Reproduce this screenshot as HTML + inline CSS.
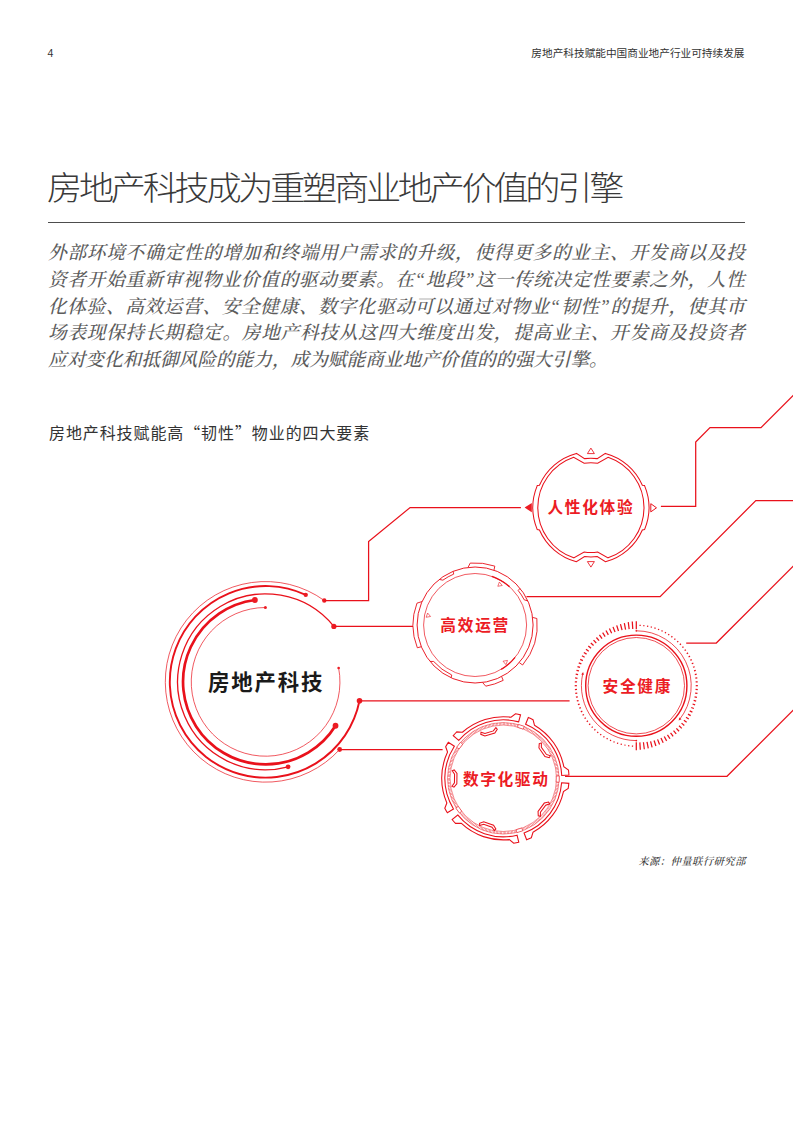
<!DOCTYPE html>
<html lang="zh-CN"><head><meta charset="utf-8"><title>房地产科技成为重塑商业地产价值的引擎</title>
<style>
html,body{margin:0;padding:0;background:#fff;}
body{width:793px;height:1122px;position:relative;overflow:hidden;font-family:"Liberation Sans","Noto Sans CJK SC",sans-serif;color:#333;}
.abs{position:absolute;white-space:nowrap;}
.pg{left:47.5px;top:47px;font-size:10.5px;line-height:12px;font-weight:400;color:#333;}
.hd{right:48.5px;top:46.5px;font-size:10.67px;line-height:12px;font-weight:400;color:#333;}
h1{margin:0;left:46.9px;top:166.3px;font-size:32.6px;line-height:46px;font-weight:300;color:#3a3a3a;letter-spacing:-3.05px;transform:scaleX(1.08);transform-origin:0 0;}
.rule{position:absolute;left:47.5px;top:221.5px;width:697px;height:1px;background:#4d4d4d;}
.body{position:absolute;left:48px;top:240.2px;width:697px;font-family:"Liberation Serif","Noto Serif CJK SC",serif;font-style:italic;font-size:18.67px;line-height:26.7px;color:#5c5c5c;font-weight:500;}
.body div{text-align:justify;text-align-last:justify;white-space:nowrap;}
.body div.last{text-align:left;text-align-last:left;}
.sub{left:49px;top:419.5px;font-size:16px;line-height:24px;letter-spacing:0.9px;font-weight:400;color:#333;}
.q{font-family:"Noto Sans CJK SC",sans-serif;}
.src{right:47.3px;top:853.8px;letter-spacing:0.35px;font-family:"Liberation Serif","Noto Serif CJK SC",serif;font-style:italic;font-weight:500;font-size:10.4px;line-height:16px;color:#333;}
</style></head><body>
<div class="abs pg">4</div>
<div class="abs hd">房地产科技赋能中国商业地产行业可持续发展</div>
<h1 class="abs">房地产科技成为重塑商业地产价值的引擎</h1>
<div class="rule"></div>
<div class="body">
<div>外部环境不确定性的增加和终端用户需求的升级，使得更多的业主、开发商以及投</div>
<div>资者开始重新审视物业价值的驱动要素。在“地段”这一传统决定性要素之外，人性</div>
<div>化体验、高效运营、安全健康、数字化驱动可以通过对物业“韧性”的提升，使其市</div>
<div>场表现保持长期稳定。房地产科技从这四大维度出发，提高业主、开发商及投资者</div>
<div class="last">应对变化和抵御风险的能力，成为赋能商业地产价值的的强大引擎。</div>
</div>
<div class="abs sub">房地产科技赋能高<span class="q">“</span>韧性<span class="q">”</span>物业的四大要素</div>
<svg width="793" height="1122" viewBox="0 0 793 1122" style="position:absolute;left:0;top:0" fill="none" stroke="#e9111b" stroke-linecap="butt" stroke-linejoin="miter">
<path d="M339.65 749.50 A100.30 100.30 0 1 1 324.27 600.50" stroke-width="0.7" />
<circle cx="324.27" cy="600.50" r="2.2" fill="#ec1c24" stroke="none"/>
<circle cx="339.65" cy="749.50" r="2.4" fill="#ec1c24" stroke="none"/>
<path d="M359.51 700.80 A95.80 95.80 0 1 1 305.73 594.86" stroke-width="1.9" />
<circle cx="305.73" cy="594.86" r="2.2" fill="#ec1c24" stroke="none"/>
<circle cx="359.51" cy="700.80" r="2.8" fill="#ec1c24" stroke="none"/>
<path d="M288.09 766.87 A87.95 87.95 0 1 1 333.87 626.40" stroke-width="1.3" />
<circle cx="333.87" cy="626.40" r="2.6" fill="#ec1c24" stroke="none"/>
<circle cx="288.09" cy="766.87" r="2.4" fill="#ec1c24" stroke="none"/>
<path d="M335.52 725.73 A82.55 82.55 0 1 1 254.90 600.00" stroke-width="2.7" />
<circle cx="254.90" cy="600.00" r="2.9" fill="#ec1c24" stroke="none"/>
<circle cx="335.52" cy="725.73" r="2.9" fill="#ec1c24" stroke="none"/>
<path d="M338.64 667.97 A74.35 74.35 0 1 1 265.40 607.50" stroke-width="0.7" />
<circle cx="265.40" cy="607.50" r="1.5" fill="#ec1c24" stroke="none"/>
<circle cx="338.64" cy="667.97" r="1.3" fill="#ec1c24" stroke="none"/>
<polyline points="324.27,600.50 368.60,600.50 368.60,541.50 410.10,507.60 520.90,507.60" stroke-width="1.25"/>
<polyline points="333.87,626.40 413.00,626.40" stroke-width="1.25"/>
<polyline points="359.51,700.80 569.60,700.80" stroke-width="1.25"/>
<polyline points="339.65,749.50 442.60,749.50" stroke-width="1.25"/>
<polyline points="660.90,506.30 695.70,506.30 695.70,442.00 710.00,427.60 761.00,427.60 793.50,395.10" stroke-width="1.25"/>
<polyline points="526.50,596.60 660.10,596.60 755.80,500.60 794.00,500.60" stroke-width="1.25"/>
<polyline points="686.20,643.00 716.30,643.00 794.00,565.30" stroke-width="1.25"/>
<polyline points="565.00,776.30 727.00,776.30 794.00,709.30" stroke-width="1.25"/>
<path d="M584.54 458.61 A49.40 49.40 0 0 1 597.26 458.61 L605.42 453.41 A56.10 56.10 0 0 1 642.35 485.23 L644.56 485.59 A58.00 58.00 0 0 1 644.56 529.61 L642.35 529.97 A56.10 56.10 0 0 1 605.42 561.79 L597.26 556.59 A49.40 49.40 0 0 1 584.54 556.59 L576.38 561.79 A56.10 56.10 0 0 1 539.45 529.97 L537.24 529.61 A58.00 58.00 0 0 1 537.24 485.59 L539.45 485.23 A56.10 56.10 0 0 1 576.38 453.41 Z" stroke-width="1.05"/>
<path d="M584.11 463.22 A44.90 44.90 0 0 1 597.69 463.22 L608.10 457.36 A53.10 53.10 0 0 1 608.10 557.84 L597.69 551.98 A44.90 44.90 0 0 1 584.11 551.98 L573.70 557.84 A53.10 53.10 0 0 1 573.70 457.36 Z" stroke-width="1.05"/>
<polygon points="590.90,448.10 587.40,453.60 594.40,453.60" fill="none" stroke-width="0.85"/>
<polygon points="590.90,567.10 587.40,561.60 594.40,561.60" fill="none" stroke-width="0.85"/>
<polygon points="524.60,507.60 531.80,502.90 531.80,512.30" fill="#ec1c24" stroke-width="0"/>
<polygon points="656.50,507.80 650.80,503.70 650.80,511.90" fill="none" stroke-width="1.0"/>
<circle cx="475.10" cy="625.00" r="58" stroke-width="0.95"/>
<circle cx="475.10" cy="625.00" r="51.5" stroke-width="0.7"/>
<path d="M468.03 567.43 L470.23 563.09 A62.10 62.10 0 0 1 494.80 566.11 L493.98 570.16" stroke-width="0.9"/>
<path d="M421.32 646.73 L417.32 647.76 A62.10 62.10 0 0 1 416.97 603.15 L422.03 601.59" stroke-width="0.9"/>
<path d="M532.60 617.43 L536.86 618.51 A62.10 62.10 0 0 1 522.60 665.00 L519.27 662.59" stroke-width="0.9"/>
<path d="M501.61 676.59 L503.20 680.38 A62.10 62.10 0 0 1 485.78 686.18 L482.57 682.52" stroke-width="0.9"/>
<path d="M439.23 579.42 L442.89 580.17 A55.20 55.20 0 0 1 453.71 574.11 L453.09 571.34" stroke-width="0.9"/>
<path d="M520.05 588.34 L518.18 590.49 A55.20 55.20 0 0 1 524.24 599.85 L527.84 600.86" stroke-width="0.9"/>
<path d="M451.05 677.78 L451.77 675.03 A55.20 55.20 0 0 1 433.69 661.50 L429.96 661.42" stroke-width="0.9"/>
<path d="M491.87 576.31 A51.50 51.50 0 0 1 509.56 586.73" stroke-width="1.2" />
<path d="M515.12 657.41 A51.50 51.50 0 0 1 501.24 669.37" stroke-width="1.2" />
<polygon points="427.65,613.04 430.54,616.49 426.11,617.27" fill="none" stroke-width="0.6"/>
<polygon points="502.24,585.49 497.81,586.27 499.35,582.04" fill="none" stroke-width="0.6"/>
<polygon points="507.49,660.43 505.95,664.66 503.06,661.21" fill="none" stroke-width="0.6"/>
<circle cx="636.30" cy="685.70" r="50.6" stroke-width="1.4"/>
<circle cx="636.30" cy="685.70" r="48.2" stroke-width="0.75"/>
<line x1="640.06" y1="625.93" x2="640.14" y2="624.71" stroke-width="1.25"/>
<line x1="643.81" y1="626.28" x2="643.96" y2="625.07" stroke-width="1.25"/>
<line x1="647.52" y1="626.87" x2="647.75" y2="625.67" stroke-width="1.25"/>
<line x1="651.19" y1="627.70" x2="651.50" y2="626.50" stroke-width="1.25"/>
<line x1="654.80" y1="628.75" x2="655.19" y2="627.57" stroke-width="1.25"/>
<line x1="658.34" y1="630.03" x2="658.80" y2="628.86" stroke-width="1.25"/>
<line x1="661.79" y1="631.53" x2="662.33" y2="630.38" stroke-width="1.25"/>
<line x1="665.13" y1="633.25" x2="665.76" y2="632.12" stroke-width="1.25"/>
<line x1="668.37" y1="635.17" x2="669.07" y2="634.06" stroke-width="1.25"/>
<line x1="671.47" y1="637.30" x2="672.25" y2="636.21" stroke-width="1.25"/>
<line x1="674.43" y1="639.61" x2="675.30" y2="638.56" stroke-width="1.25"/>
<line x1="677.24" y1="642.11" x2="678.19" y2="641.09" stroke-width="1.25"/>
<line x1="679.88" y1="644.77" x2="680.92" y2="643.80" stroke-width="1.25"/>
<line x1="682.35" y1="647.60" x2="683.48" y2="646.67" stroke-width="1.25"/>
<line x1="684.63" y1="650.58" x2="685.86" y2="649.70" stroke-width="1.25"/>
<line x1="686.73" y1="653.70" x2="688.04" y2="652.87" stroke-width="1.25"/>
<line x1="688.61" y1="656.94" x2="690.02" y2="656.17" stroke-width="1.25"/>
<line x1="690.29" y1="660.29" x2="691.79" y2="659.59" stroke-width="1.25"/>
<line x1="691.76" y1="663.74" x2="693.35" y2="663.11" stroke-width="1.25"/>
<line x1="693.00" y1="667.28" x2="694.68" y2="666.73" stroke-width="1.25"/>
<line x1="694.01" y1="670.88" x2="695.79" y2="670.43" stroke-width="1.25"/>
<line x1="694.79" y1="674.54" x2="696.67" y2="674.18" stroke-width="1.25"/>
<line x1="695.34" y1="678.24" x2="697.31" y2="677.99" stroke-width="1.25"/>
<line x1="695.65" y1="681.97" x2="697.71" y2="681.84" stroke-width="1.25"/>
<line x1="695.72" y1="685.70" x2="697.88" y2="685.70" stroke-width="1.25"/>
<line x1="695.56" y1="689.43" x2="697.80" y2="689.57" stroke-width="1.25"/>
<line x1="695.16" y1="693.14" x2="697.48" y2="693.43" stroke-width="1.25"/>
<line x1="694.53" y1="696.81" x2="696.93" y2="697.27" stroke-width="1.25"/>
<line x1="693.66" y1="700.43" x2="696.14" y2="701.06" stroke-width="1.25"/>
<line x1="692.57" y1="703.98" x2="695.11" y2="704.81" stroke-width="1.25"/>
<line x1="691.25" y1="707.46" x2="693.85" y2="708.49" stroke-width="1.25"/>
<line x1="689.71" y1="710.84" x2="692.37" y2="712.08" stroke-width="1.25"/>
<line x1="687.97" y1="714.10" x2="690.66" y2="715.59" stroke-width="1.25"/>
<line x1="686.02" y1="717.25" x2="688.75" y2="718.98" stroke-width="1.25"/>
<line x1="683.87" y1="720.26" x2="686.62" y2="722.26" stroke-width="1.25"/>
<line x1="681.54" y1="723.13" x2="684.29" y2="725.40" stroke-width="1.25"/>
<line x1="679.03" y1="725.83" x2="681.77" y2="728.40" stroke-width="1.25"/>
<line x1="676.36" y1="728.36" x2="679.07" y2="731.24" stroke-width="1.25"/>
<line x1="673.54" y1="730.71" x2="676.19" y2="733.92" stroke-width="1.25"/>
<line x1="670.57" y1="732.87" x2="673.15" y2="736.43" stroke-width="1.25"/>
<line x1="667.47" y1="734.82" x2="669.96" y2="738.74" stroke-width="1.25"/>
<line x1="664.26" y1="736.56" x2="666.63" y2="740.87" stroke-width="1.25"/>
<line x1="660.95" y1="738.09" x2="663.17" y2="742.80" stroke-width="1.25"/>
<line x1="657.56" y1="739.39" x2="659.59" y2="744.51" stroke-width="1.25"/>
<line x1="654.09" y1="740.46" x2="655.90" y2="746.02" stroke-width="1.25"/>
<line x1="650.57" y1="741.29" x2="652.12" y2="747.31" stroke-width="1.25"/>
<line x1="647.02" y1="741.89" x2="648.26" y2="748.37" stroke-width="1.25"/>
<line x1="643.44" y1="742.24" x2="644.32" y2="749.21" stroke-width="1.25"/>
<line x1="639.86" y1="742.34" x2="640.33" y2="749.82" stroke-width="1.25"/>
<line x1="636.30" y1="742.20" x2="636.30" y2="750.20" stroke-width="1.25"/>
<line x1="632.54" y1="745.47" x2="632.46" y2="746.69" stroke-width="1.25"/>
<line x1="628.79" y1="745.12" x2="628.64" y2="746.33" stroke-width="1.25"/>
<line x1="625.08" y1="744.53" x2="624.85" y2="745.73" stroke-width="1.25"/>
<line x1="621.41" y1="743.70" x2="621.10" y2="744.90" stroke-width="1.25"/>
<line x1="617.80" y1="742.65" x2="617.41" y2="743.83" stroke-width="1.25"/>
<line x1="614.26" y1="741.37" x2="613.80" y2="742.54" stroke-width="1.25"/>
<line x1="610.81" y1="739.87" x2="610.27" y2="741.02" stroke-width="1.25"/>
<line x1="607.47" y1="738.15" x2="606.84" y2="739.28" stroke-width="1.25"/>
<line x1="604.23" y1="736.23" x2="603.53" y2="737.34" stroke-width="1.25"/>
<line x1="601.13" y1="734.10" x2="600.35" y2="735.19" stroke-width="1.25"/>
<line x1="598.17" y1="731.79" x2="597.30" y2="732.84" stroke-width="1.25"/>
<line x1="595.36" y1="729.29" x2="594.41" y2="730.31" stroke-width="1.25"/>
<line x1="592.72" y1="726.63" x2="591.68" y2="727.60" stroke-width="1.25"/>
<line x1="590.25" y1="723.80" x2="589.12" y2="724.73" stroke-width="1.25"/>
<line x1="587.97" y1="720.82" x2="586.74" y2="721.70" stroke-width="1.25"/>
<line x1="585.87" y1="717.70" x2="584.56" y2="718.53" stroke-width="1.25"/>
<line x1="583.99" y1="714.46" x2="582.58" y2="715.23" stroke-width="1.25"/>
<line x1="582.31" y1="711.11" x2="580.81" y2="711.81" stroke-width="1.25"/>
<line x1="580.84" y1="707.66" x2="579.25" y2="708.29" stroke-width="1.25"/>
<line x1="579.60" y1="704.12" x2="577.92" y2="704.67" stroke-width="1.25"/>
<line x1="578.59" y1="700.52" x2="576.81" y2="700.97" stroke-width="1.25"/>
<line x1="577.81" y1="696.86" x2="575.93" y2="697.22" stroke-width="1.25"/>
<line x1="577.26" y1="693.16" x2="575.29" y2="693.41" stroke-width="1.25"/>
<line x1="576.95" y1="689.43" x2="574.89" y2="689.56" stroke-width="1.25"/>
<line x1="576.88" y1="685.70" x2="574.72" y2="685.70" stroke-width="1.25"/>
<line x1="577.04" y1="681.97" x2="574.80" y2="681.83" stroke-width="1.25"/>
<line x1="577.44" y1="678.26" x2="575.12" y2="677.97" stroke-width="1.25"/>
<line x1="578.07" y1="674.59" x2="575.67" y2="674.13" stroke-width="1.25"/>
<line x1="578.94" y1="670.97" x2="576.46" y2="670.34" stroke-width="1.25"/>
<line x1="580.03" y1="667.42" x2="577.49" y2="666.59" stroke-width="1.25"/>
<line x1="581.35" y1="663.94" x2="578.75" y2="662.91" stroke-width="1.25"/>
<line x1="582.89" y1="660.56" x2="580.23" y2="659.32" stroke-width="1.25"/>
<line x1="584.63" y1="657.30" x2="581.94" y2="655.81" stroke-width="1.25"/>
<line x1="586.58" y1="654.15" x2="583.85" y2="652.42" stroke-width="1.25"/>
<line x1="588.73" y1="651.14" x2="585.98" y2="649.14" stroke-width="1.25"/>
<line x1="591.06" y1="648.27" x2="588.31" y2="646.00" stroke-width="1.25"/>
<line x1="593.57" y1="645.57" x2="590.83" y2="643.00" stroke-width="1.25"/>
<line x1="596.24" y1="643.04" x2="593.53" y2="640.16" stroke-width="1.25"/>
<line x1="599.06" y1="640.69" x2="596.41" y2="637.48" stroke-width="1.25"/>
<line x1="602.03" y1="638.53" x2="599.45" y2="634.97" stroke-width="1.25"/>
<line x1="605.13" y1="636.58" x2="602.64" y2="632.66" stroke-width="1.25"/>
<line x1="608.34" y1="634.84" x2="605.97" y2="630.53" stroke-width="1.25"/>
<line x1="611.65" y1="633.31" x2="609.43" y2="628.60" stroke-width="1.25"/>
<line x1="615.04" y1="632.01" x2="613.01" y2="626.89" stroke-width="1.25"/>
<line x1="618.51" y1="630.94" x2="616.70" y2="625.38" stroke-width="1.25"/>
<line x1="622.03" y1="630.11" x2="620.48" y2="624.09" stroke-width="1.25"/>
<line x1="625.58" y1="629.51" x2="624.34" y2="623.03" stroke-width="1.25"/>
<line x1="629.16" y1="629.16" x2="628.28" y2="622.19" stroke-width="1.25"/>
<line x1="632.74" y1="629.06" x2="632.27" y2="621.58" stroke-width="1.25"/>
<line x1="636.30" y1="629.20" x2="636.30" y2="621.20" stroke-width="1.25"/>
<path d="M636.30 630.80 A54.90 54.90 0 0 1 679.56 719.50" stroke-width="0.75" />
<path d="M636.30 740.60 A54.90 54.90 0 0 1 582.81 673.35" stroke-width="0.75" />
<polygon points="678.66,720.62 681.48,719.13 679.39,717.58" fill="#ec1c24" stroke-width="0"/>
<polygon points="583.15,671.95 581.23,674.50 583.78,675.01" fill="#ec1c24" stroke-width="0"/>
<circle cx="636.30" cy="630.80" r="0.9" fill="#ec1c24" stroke="none"/>
<circle cx="636.30" cy="740.60" r="0.9" fill="#ec1c24" stroke="none"/>
<path d="M561.63 782.79 L568.81 783.34 A65.70 65.70 0 0 1 568.21 788.46 L563.46 791.53 A61.60 61.60 0 0 1 532.98 832.28 L531.38 837.70 A65.70 65.70 0 0 1 526.63 839.72 L524.07 832.99 A58.50 58.50 0 0 0 561.63 782.79 Z" stroke-width="1.1"/>
<path d="M517.06 835.16 L518.75 842.16 A65.70 65.70 0 0 1 513.69 843.17 L509.31 839.61 A61.60 61.60 0 0 1 461.13 823.20 L455.49 823.36 A65.70 65.70 0 0 1 452.10 819.47 L457.71 814.96 A58.50 58.50 0 0 0 517.06 835.16 Z" stroke-width="1.1"/>
<path d="M453.47 808.95 L447.34 812.73 A65.70 65.70 0 0 1 444.81 808.23 L446.85 802.96 A61.60 61.60 0 0 1 447.56 752.07 L445.67 746.75 A65.70 65.70 0 0 1 448.32 742.33 L454.35 746.27 A58.50 58.50 0 0 0 453.47 808.95 Z" stroke-width="1.1"/>
<path d="M458.75 740.38 L453.27 735.72 A65.70 65.70 0 0 1 456.76 731.92 L462.40 732.24 A61.60 61.60 0 0 1 511.02 717.19 L515.50 713.74 A65.70 65.70 0 0 1 520.53 714.90 L518.64 721.85 A58.50 58.50 0 0 0 458.75 740.38 Z" stroke-width="1.1"/>
<path d="M525.59 724.21 L528.34 717.56 A65.70 65.70 0 0 1 533.02 719.71 L534.47 725.17 A61.60 61.60 0 0 1 563.81 766.76 L568.47 769.95 A65.70 65.70 0 0 1 568.92 775.09 L561.73 775.44 A58.50 58.50 0 0 0 525.59 724.21 Z" stroke-width="1.1"/>
<circle cx="503.30" cy="778.30" r="55.8" stroke-width="0.45"/>
<circle cx="503.30" cy="778.30" r="53.2" stroke-width="0.45"/>
<circle cx="503.30" cy="778.30" r="54.5" stroke-width="2.4" stroke-dasharray="0.5 0.9" opacity="0.75"/>
<polygon points="556.25,776.08 559.25,775.95 559.16,782.21 556.17,782.00" fill="#fff" stroke-width="0.6"/>
<polygon points="549.69,803.86 548.57,802.03 544.29,803.07 538.06,811.40 538.26,815.80 540.35,816.36 540.46,812.20 545.73,805.15" fill="none" stroke-width="1.05"/>
<polygon points="521.77,827.98 522.82,830.79 516.85,832.64 516.12,829.73" fill="#fff" stroke-width="0.6"/>
<polygon points="494.45,830.56 495.86,828.93 493.54,825.18 483.70,821.83 479.57,823.38 479.69,825.53 483.68,824.36 492.01,827.19" fill="none" stroke-width="1.05"/>
<polygon points="461.76,811.22 459.41,813.08 455.81,807.98 458.35,806.39" fill="#fff" stroke-width="0.6"/>
<polygon points="452.00,786.28 453.98,787.11 456.83,783.75 456.98,773.35 454.22,769.91 452.21,770.68 454.57,774.11 454.44,782.91" fill="none" stroke-width="1.05"/>
<polygon points="459.16,748.97 456.66,747.31 460.40,742.30 462.70,744.23" fill="#fff" stroke-width="0.6"/>
<polygon points="480.99,732.21 480.82,734.36 484.89,736.03 494.83,732.96 497.25,729.28 495.89,727.60 493.35,730.90 484.95,733.50" fill="none" stroke-width="1.05"/>
<polygon points="517.55,727.25 518.36,724.36 524.28,726.38 523.15,729.16" fill="#fff" stroke-width="0.6"/>
<polygon points="541.37,743.08 539.27,743.58 538.94,747.97 544.94,756.47 549.19,757.64 550.36,755.83 546.44,754.43 541.37,747.24" fill="none" stroke-width="1.05"/>
<g stroke="none" font-family="'Liberation Sans','Noto Sans CJK SC',sans-serif" font-weight="700" text-anchor="start">
<text x="207.9" y="690.0" font-size="21.4" letter-spacing="1.9" fill="#1a1a1a">房地产科技</text>
<text x="547.4" y="513.4" font-size="15.7" letter-spacing="1.7" fill="#ec1c24">人性化体验</text>
<text x="440.3" y="631.2" font-size="15.7" letter-spacing="1.75" fill="#ec1c24">高效运营</text>
<text x="602.5" y="692.2" font-size="15.7" letter-spacing="1.75" fill="#ec1c24">安全健康</text>
<text x="463.0" y="785.2" font-size="15.7" letter-spacing="1.6" fill="#ec1c24">数字化驱动</text>
</g>
</svg>
<div class="abs src">来源：仲量联行研究部</div>
</body></html>
